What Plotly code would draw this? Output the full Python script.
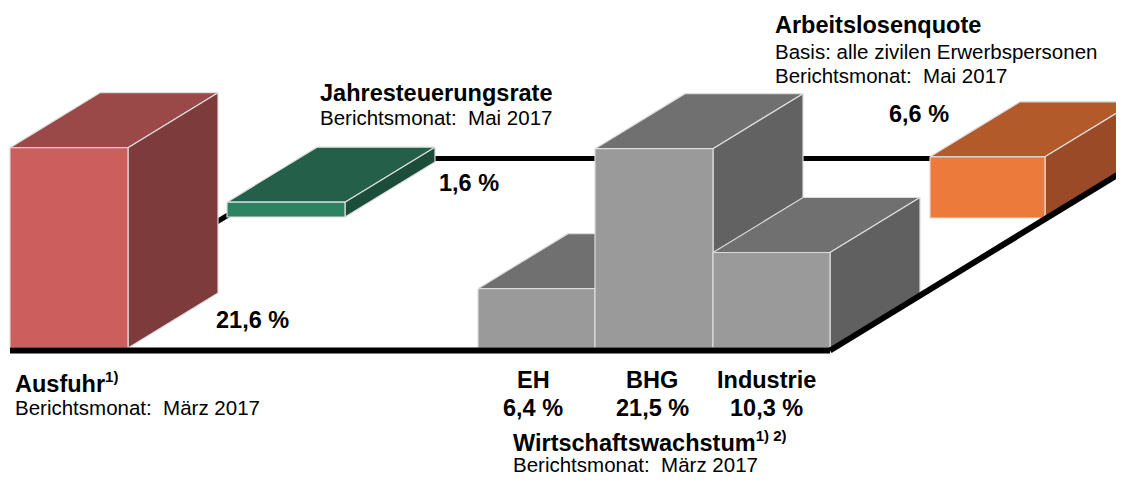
import plotly.graph_objects as go

# ---------------- data ----------------
categories = ["Ausfuhr", "Jahresteuerungsrate", "EH", "BHG", "Industrie", "Arbeitslosenquote"]
values = [21.6, 1.6, 6.4, 21.5, 10.3, 6.6]
sub_labels = ["EH", "BHG", "Industrie"]

# ---------------- style / layout ----------------
W, H = 1124, 484
PAGE_MARGIN = 8        # default body margin of the html page
SCALE = 9.27           # pixels per percentage point
DX, DY = 90, -55       # depth offset of the pseudo-3D boxes
EDGE = "#dcdcdc"

# front-left x, base y, front width, (front, top, side) colours
box_style = {
    "Ausfuhr": (10, 348, 118, ("#CD5E5E", "#9B4848", "#7E3B3C")),
    "Jahresteuerungsrate": (227, 217, 118, ("#2E8262", "#235F49", "#1C4D3B")),
    "EH": (478, 348, 117, ("#9A9A9B", "#707070", "#606061")),
    "BHG": (595, 348, 118, ("#9A9A9B", "#707070", "#626263")),
    "Industrie": (713, 348, 117, ("#9A9A9B", "#707070", "#606061")),
    "Arbeitslosenquote": (930, 218, 115, ("#EC7A3B", "#B35A2B", "#9A4A26")),
}

FONT = "Liberation Sans, Arial, sans-serif"
BOLD_SIZE = 23.5
REG_SIZE = 20.5
SUP = '<sup><span style="font-size:15px">{}</span></sup>'

fig = go.Figure()


def poly(xs, ys, color, edge=EDGE, width=1.2):
    fig.add_trace(go.Scatter(
        x=xs + [xs[0]], y=ys + [ys[0]], mode="lines", fill="toself",
        fillcolor=color, line=dict(color=edge, width=width),
        hoverinfo="skip", showlegend=False))


def line(xs, ys, width=5):
    fig.add_trace(go.Scatter(
        x=xs, y=ys, mode="lines", line=dict(color="black", width=width),
        hoverinfo="skip", showlegend=False))


def box(name, value):
    x0, base, w, (cf, ct, cs) = box_style[name]
    h = value * SCALE
    top = base - h
    x1 = x0 + w
    # top face
    poly([x0, x1, x1 + DX, x0 + DX], [top, top, top + DY, top + DY], ct)
    # side face
    poly([x1, x1 + DX, x1 + DX, x1], [top, top + DY, base + DY, base], cs)
    # front face
    poly([x0, x1, x1, x0], [top, top, base, base], cf)


vals = dict(zip(categories, values))

# background lines (behind boxes)
line([433, 930], [158.5, 158.5])
line([205, 229], [229, 214.5])

for name in ["Jahresteuerungsrate", "Ausfuhr", "EH", "BHG", "Industrie", "Arbeitslosenquote"]:
    box(name, vals[name])

# floor lines
line([10, 830], [350.5, 350.5], width=6)
line([830, 830 + 300], [350.5, 350.5 + 300 * DY / DX], width=6)


def fmt(v):
    return f"{v:.1f}".replace(".", ",") + " %"


def txt(x, y, text, bold=False, xanchor="left", size=None):
    fig.add_annotation(
        x=x, y=y, xref="x", yref="y", text=f"<b>{text}</b>" if bold else text,
        showarrow=False, xanchor=xanchor, yanchor="middle",
        font=dict(family=FONT, size=size or (BOLD_SIZE if bold else REG_SIZE), color="black"))


# Ausfuhr
txt(13, 382, "Ausfuhr" + SUP.format("1)"), bold=True)
txt(13, 407, "Berichtsmonat:  März 2017")
txt(214, 320, fmt(vals["Ausfuhr"]), bold=True)

# Jahresteuerungsrate
txt(318, 93, "Jahresteuerungsrate", bold=True)
txt(318, 117, "Berichtsmonat:  Mai 2017")
txt(437, 183, fmt(vals["Jahresteuerungsrate"]), bold=True)

# Arbeitslosenquote
txt(773, 25, "Arbeitslosenquote", bold=True)
txt(773, 51, "Basis: alle zivilen Erwerbspersonen")
txt(773, 75, "Berichtsmonat:  Mai 2017")
txt(919, 114, fmt(vals["Arbeitslosenquote"]), bold=True, xanchor="center")

# Wirtschaftswachstum
centers = [533, 652, 766]
for c, lab in zip(centers, sub_labels):
    txt(c, 380, lab, bold=True, xanchor="center")
    txt(c, 408, fmt(vals[lab]), bold=True, xanchor="center")
txt(511, 441, "Wirtschaftswachstum" + SUP.format("1) 2)"), bold=True)
txt(511, 464, "Berichtsmonat:  März 2017")

fig.update_layout(
    width=W - PAGE_MARGIN, height=H - PAGE_MARGIN, margin=dict(l=0, r=0, t=0, b=0),
    paper_bgcolor="white", plot_bgcolor="white", showlegend=False,
    xaxis=dict(range=[PAGE_MARGIN, W], visible=False, fixedrange=True),
    yaxis=dict(range=[H, PAGE_MARGIN], visible=False, fixedrange=True),
)

fig.write_html("out.html")
